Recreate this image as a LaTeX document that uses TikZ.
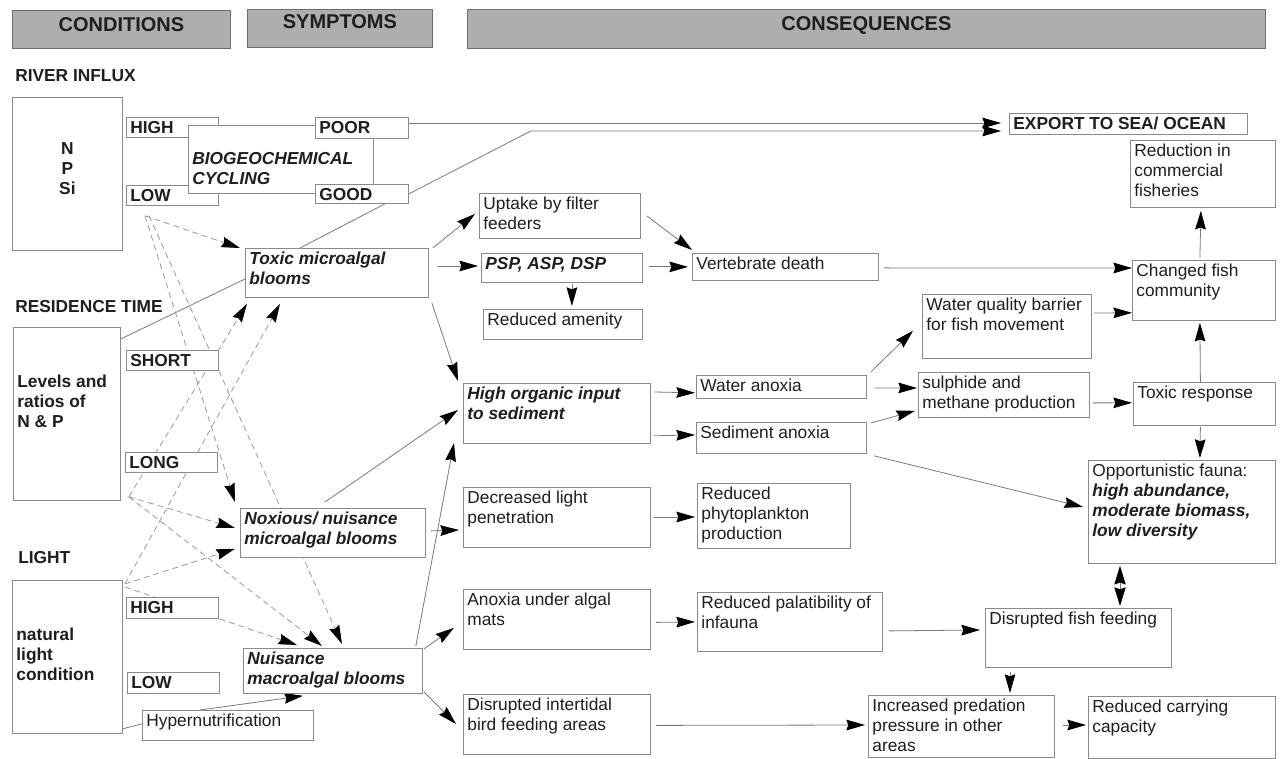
\documentclass[tikz,border=0pt]{standalone}
\usepackage{fontspec}
\setmainfont{Liberation Sans}
\usetikzlibrary{arrows.meta,calc}
\pgfdeclarelayer{paper}
\pgfdeclarelayer{bg}
\pgfsetlayers{paper,bg,main}
\definecolor{boxgray}{HTML}{8A8A8A}
\definecolor{linegray}{HTML}{7A7A7A}
\definecolor{dashgray}{HTML}{9A9A9A}
\definecolor{txt}{HTML}{1E1E1E}
\definecolor{hdrgray}{HTML}{AEAEAE}
\definecolor{hdrline}{HTML}{6E6E6E}
\tikzset{
  box/.style={draw=boxgray, fill=white, line width=0.6pt, anchor=north west,
    inner xsep=3pt, inner ysep=3pt, text=txt, font=\fontsize{13}{15}\selectfont},
  bfont/.style={font=\fontsize{13}{15}\selectfont\bfseries},
  bifont/.style={font=\fontsize{13}{15}\selectfont\bfseries\itshape},
  hdr/.style={fill=hdrgray, draw=hdrline, font=\fontsize{15}{17}\selectfont\bfseries},
  lbl/.style={anchor=base west, inner sep=0pt, text=txt, font=\fontsize{13}{15}\selectfont\bfseries},
  conn/.style={draw=linegray, line width=0.6pt},
  arr/.style={conn, -{Stealth[length=14pt,width=8pt,inset=1.5pt,color=black]}},
  darr/.style={arr, draw=dashgray, dash pattern=on 4.5pt off 3pt},
  dblarr/.style={conn, {Stealth[length=14pt,width=8.5pt,inset=1.5pt,color=black]}-{Stealth[length=14pt,width=8.5pt,inset=1.5pt,color=black]}},
}
\newcommand{\bx}[7][]{\node[box,#1] (#2) at (#3,#4) {\parbox[c][\dimexpr0.75pt*#6-6pt\relax][t]{\dimexpr0.75pt*#5-6pt\relax}{\raggedright #7}};}
\begin{document}
\begin{tikzpicture}[x=0.75pt,y=-0.75pt]
\begin{pgfonlayer}{paper}
\useasboundingbox[fill=white] (0,0) rectangle (1282,754);
\end{pgfonlayer}
% headers
\bx[hdr]{hcond}{12}{10}{218}{38}{\centering\vspace*{2.5pt}CONDITIONS}
\bx[hdr]{hsym}{247}{9}{185}{38}{\centering\vspace*{1pt}SYMPTOMS}
\bx[hdr]{hcons}{467}{9}{798}{39}{\centering\vspace*{2pt}CONSEQUENCES}
% section labels
\node[lbl] (lriv) at (15,82) {RIVER INFLUX};
\node[lbl] (lresi) at (15,313) {RESIDENCE TIME};
\node[lbl] (llig) at (18,563) {LIGHT};
% conditions
\bx[bfont]{npsi}{12}{97}{110}{153}{\centering\vspace*{31pt}N\\P\\Si}
\bx[bfont]{rhigh}{126}{117}{92}{20}{HIGH}
\bx[bfont]{rlow}{126}{185}{92}{20}{LOW}
\bx[bifont]{bio}{188}{125}{185}{68}{\vspace*{17pt}BIOGEOCHEMICAL\\CYCLING}
\bx[bfont]{poor}{315}{117}{93}{21}{POOR}
\bx[bfont]{good}{315}{184}{93}{19}{GOOD}
\bx[bfont]{export}{1009}{113}{238}{21}{EXPORT TO SEA/ OCEAN}
\bx[bfont]{res}{13}{327}{107}{173}{\vspace*{33pt}Levels and\\ratios of\\N \& P}
\bx[bfont]{short}{126}{350}{92}{20}{SHORT}
\bx[bfont]{long}{125}{452}{92}{20}{LONG}
\bx[bfont]{lbox}{12}{580}{110}{153}{\vspace*{33pt}natural\\light\\condition}
\bx[bfont]{lhigh}{126}{597}{92}{21}{HIGH}
\bx[bfont]{llow}{127}{672}{92}{21}{LOW}
\bx{hyper}{142}{710}{171}{30}{Hypernutrification}
% symptoms
\bx[bifont]{toxic}{245}{248}{183}{49}{Toxic microalgal\\blooms}
\bx[bifont]{noxious}{240}{508}{185}{49}{Noxious/ nuisance\\microalgal blooms}
\bx[bifont]{nuis}{243}{648}{179}{45}{Nuisance\\macroalgal blooms}
% consequences
\bx{uptake}{479}{193}{161}{45}{Uptake by filter\\feeders}
\bx[bifont]{psp}{481}{253}{161}{29}{PSP, ASP, DSP}
\bx{amen}{483}{309}{159}{30}{Reduced amenity}
\bx{vert}{692}{253}{186}{27}{Vertebrate death}
\bx[bifont]{organic}{463}{383}{187}{60}{High organic input\\to sediment}
\bx{wanox}{696}{375}{170}{23}{Water anoxia}
\bx{sanox}{696}{422}{170}{31}{Sediment anoxia}
\bx{declight}{463}{487}{187}{60}{Decreased light\\penetration}
\bx{phyto}{697}{483}{153}{65}{Reduced\\phytoplankton\\production}
\bx{anoxmat}{463}{589}{187}{60}{Anoxia under algal\\mats}
\bx{palat}{697}{592}{185}{59}{Reduced palatibility of\\infauna}
\bx{birds}{463}{694}{187}{60}{Disrupted intertidal\\bird feeding areas}
\bx{wqb}{922}{294}{169}{64}{Water quality barrier\\for fish movement}
\bx{sulph}{918}{372}{171}{45}{sulphide and\\methane production}
\bx{redfish}{1130}{140}{145}{67}{Reduction in\\commercial\\fisheries}
\bx{changed}{1132}{260}{143}{60}{Changed fish\\community}
\bx{toxresp}{1133}{382}{142}{43}{Toxic response}
\bx{opport}{1088}{460}{187}{103}{Opportunistic fauna:\\\textbf{\textit{high abundance,}}\\\textbf{\textit{moderate biomass,}}\\\textbf{\textit{low diversity}}}
\bx{dfish}{985}{608}{186}{59}{Disrupted fish feeding}
\bx{pred}{868}{695}{186}{62}{Increased predation\\pressure in other\\areas}
\bx{carry}{1088}{696}{187}{62}{Reduced carrying\\capacity}
\begin{pgfonlayer}{bg}
% export
\draw[arr,shorten >=6pt] ($(poor.north east)+(0,6)$) -- ($(export.north west)+(0,10)$);
\coordinate (ex2) at ($(export.north west)+(0,18)$);
\coordinate (g2) at ($(good.east)+(122,0)$);
\draw[arr,shorten >=6pt] (good.east) -- (g2 |- ex2) -- (ex2);
\draw[conn] ($(res.north east)+(0,12)$) -- ($(toxic.north west)+(0,31)$);
\draw[conn] ($(toxic.north west)+(55,0)$) -- ($(good.south west)+(70,0)$);
% toxic branch
\draw[arr] ($(toxic.north east)+(4,0)$) -- ($(uptake.west)+(-4,-2)$);
\draw[arr] ($(toxic.north east)+(9,18)$) -- ($(psp.north west)+(-3,13)$);
\draw[arr] ($(psp.south)+(10,1)$) -- ($(amen.north)+(9,-3)$);
\draw[arr] ($(psp.east)+(6,-1)$) -- ($(vert.west)+(-4,0)$);
\draw[arr] ($(uptake.east)+(6,0)$) -- ($(vert.north west)+(0,-3)$);
\draw[arr] ($(vert.east)+(5,1)$) -- ($(changed.north west)+(0,8)$);
\draw[arr] ($(changed.north)+(-4,-2)$) -- ($(redfish.south)+(-2,3)$);
\draw[arr] ($(wqb.north east)+(2,19)$) -- ($(changed.south west)+(0,-8)$);
\draw[arr] ($(toxresp.north)+(-4,0)$) -- ($(changed.south)+(-4,2)$);
\draw[arr] ($(sulph.east)+(3,8)$) -- ($(toxresp.south west)+(-1,-23)$);
\draw[arr] ($(toxresp.south)+(-4,1)$) -- ($(opport.north)+(18,-2)$);
% organic branch
\draw[arr] ($(toxic.south east)+(3,5)$) -- ($(organic.north west)+(-5,-2)$);
\draw[arr] ($(noxious.north west)+(85,-6)$) -- ($(organic.north west)+(-5,27)$);
\draw[arr] ($(nuis.north east)+(-7,-2)$) -- ($(organic.south west)+(-9,-1)$);
\draw[arr] ($(organic.north east)+(3,9)$) -- ($(wanox.south west)+(-1,-6)$);
\draw[arr] ($(organic.south east)+(3,-8)$) -- ($(sanox.west)+(-1,-3)$);
\draw[arr] ($(wanox.north east)+(4,-3)$) -- ($(wqb.south west)+(-9,-28)$);
\draw[arr] ($(wanox.east)+(8,1)$) -- ($(sulph.north west)+(-1,16)$);
\draw[arr] ($(sanox.north east)+(4,1)$) -- ($(sulph.south west)+(-3,-7)$);
\draw[arr] ($(sanox.south east)+(7,2)$) -- ($(opport.north west)+(-5,47)$);
% light branch
\draw[arr] ($(noxious.east)+(5,-2)$) -- ($(declight.north west)+(-4,43)$);
\draw[arr] ($(declight.north east)+(3,30)$) -- ($(phyto.north west)+(-2,34)$);
% macroalgae branch
\draw[arr] ($(nuis.north east)+(1,1)$) -- ($(anoxmat.south west)+(-9,-22)$);
\draw[arr] ($(nuis.south east)+(1,-2)$) -- ($(birds.north west)+(-7,30)$);
\draw[arr] ($(anoxmat.east)+(5,3)$) -- ($(palat.west)+(-2,0)$);
\draw[arr] ($(palat.east)+(6,9)$) -- ($(dfish.north west)+(-5,22)$);
\draw[arr] ($(birds.east)+(5,1)$) -- ($(pred.north west)+(-3,30)$);
\draw[arr] ($(dfish.south west)+(25,4)$) -- ($(pred.north west)+(142,-2)$);
\draw[arr] ($(pred.north east)+(8,30)$) -- ($(carry.north west)+(-2,29)$);
\draw[dblarr] ($(opport.south west)+(32,2)$) -- ($(dfish.north west)+(135,-2)$);
% hypernutrification
\draw[conn] ($(lbox.south east)+(0,-5)$) -- ($(hyper.south west)+(0,-17)$);
\draw[arr] ($(hyper.north west)+(58,0)$) -- ($(nuis.south west)+(60,2)$);
% dashed condition links
\coordinate (lowpt) at ($(rlow.south west)+(19,10)$);
\coordinate (lowpt2) at ($(rlow.south west)+(23,10)$);
\coordinate (respt) at ($(res.south east)+(8,-4)$);
\coordinate (ligpt) at ($(lbox.north east)+(2,4)$);
\coordinate (ligpt2) at ($(lbox.north east)+(2,7)$);
\draw[darr] (lowpt) -- ($(toxic.north west)+(-5,0)$);
\draw[darr] (lowpt) -- ($(noxious.north west)+(-5,-6)$);
\draw[darr] (lowpt2) -- ($(nuis.north west)+(99,-4)$);
\draw[darr] (respt) -- ($(toxic.south west)+(2,6)$);
\draw[darr] (respt) -- ($(noxious.north west)+(-5,20)$);
\draw[darr] (respt) -- ($(nuis.north west)+(79,-2)$);
\draw[darr] (ligpt) -- ($(toxic.south west)+(35,6)$);
\draw[darr] (ligpt) -- ($(noxious.south west)+(-5,-9)$);
\draw[darr] (ligpt2) -- ($(nuis.north west)+(54,-3)$);
\end{pgfonlayer}
\end{tikzpicture}
\end{document}
